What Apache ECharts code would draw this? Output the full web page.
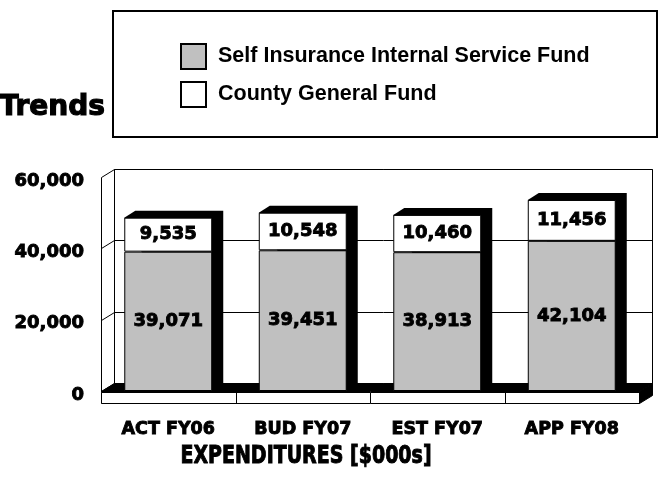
<!DOCTYPE html>
<html><head><meta charset="utf-8">
<script src="https://cdn.jsdelivr.net/npm/echarts@6/dist/echarts.min.js"></script>
<style>html,body{margin:0;padding:0;background:#fff}#c{width:660px;height:483px}</style>
</head><body><div id="c"></div>
<script>
const categories = ['ACT FY06', 'BUD FY07', 'EST FY07', 'APP FY08'];
const selfInsurance = [39071, 39451, 38913, 42104];
const countyGeneral = [9535, 10548, 10460, 11456];
const yTickValues = [0, 20000, 40000, 60000];
const seriesNames = ['Self Insurance Internal Service Fund', 'County General Fund'];

const DEPTH_X = 13, DEPTH_Y = 8, BAR_DX = 11, BAR_DY = 7, SLAB = 12;
const BAR_RATIO = 0.654;
const NUM_FONT = 'DejaVu Sans';
const GRAY = '#c0c0c0';
const fmt = v => Number(v).toLocaleString('en-US');
const totals = categories.map((c, i) => selfInsurance[i] + countyGeneral[i]);

const chart = echarts.init(document.getElementById('c'), null, {renderer: 'canvas'});

function ln(a, b, c, d) {
  return {type: 'line', shape: {x1: a, y1: b, x2: c, y2: d}, style: {stroke: '#000', lineWidth: 1}};
}

function renderFrame(params, api) {
  const cs = params.coordSys;
  const x0 = Math.round(cs.x) + 0.5, x1 = Math.round(cs.x + cs.width) + 0.5;
  const y0 = Math.round(api.coord([0, 0])[1]) + 0.5;
  const yTop = Math.round(api.coord([0, yTickValues[yTickValues.length - 1]])[1]) + 0.5;
  const ch = [];
  ch.push({type: 'rect', shape: {x: x0 + DEPTH_X, y: yTop - DEPTH_Y, width: x1 - x0, height: y0 - yTop},
    style: {fill: '#fff', stroke: '#000', lineWidth: 1}});
  yTickValues.forEach(t => {
    const y = Math.round(api.coord([0, t])[1]) + 0.5;
    if (t > 0) ch.push(ln(x0 + DEPTH_X, y - DEPTH_Y, x1 + DEPTH_X, y - DEPTH_Y));
    ch.push(ln(x0, y, x0 + DEPTH_X, y - DEPTH_Y));
  });
  ch.push(ln(x0, yTop, x0, y0 + SLAB));
  ch.push({type: 'polygon', shape: {points: [[x0, y0], [x0 + DEPTH_X, y0 - DEPTH_Y], [x1 + DEPTH_X, y0 - DEPTH_Y], [x1, y0]]},
    style: {fill: '#000', stroke: '#000', lineWidth: 1}});
  ch.push({type: 'rect', shape: {x: x0, y: y0 + 1, width: x1 - x0, height: SLAB - 1},
    style: {fill: '#fff', stroke: '#000', lineWidth: 1}});
  const band = api.size([1, 0])[0];
  for (let i = 1; i < categories.length; i++) {
    const xs = Math.round(api.coord([i, 0])[0] - band / 2) + 0.5;
    ch.push(ln(xs, y0 + 1, xs, y0 + SLAB));
  }
  ch.push({type: 'polygon', shape: {points: [[x1, y0], [x1 + DEPTH_X, y0 - DEPTH_Y], [x1 + DEPTH_X, y0 + SLAB - DEPTH_Y], [x1, y0 + SLAB]]},
    style: {fill: '#000', stroke: '#000', lineWidth: 1}});
  return {type: 'group', children: ch};
}

function renderShadow(params, api) {
  const i = api.value(0);
  const top = api.coord([i, api.value(1)]);
  const bot = api.coord([i, 0]);
  const bw = api.size([1, 0])[0] * BAR_RATIO;
  const l = top[0] - bw / 2, r = top[0] + bw / 2;
  return {type: 'polygon', shape: {points: [[l, top[1]], [l + BAR_DX, top[1] - BAR_DY], [r + BAR_DX, top[1] - BAR_DY],
    [r + BAR_DX, bot[1] - BAR_DY], [r, bot[1]]]}, style: {fill: '#000'}};
}

const heavy = {fontFamily: NUM_FONT, fontWeight: 'bold', color: '#000', textBorderColor: '#000', textBorderWidth: 0.9};
const barLabel = Object.assign({show: true, position: 'inside', formatter: p => fmt(p.value), fontSize: 18}, heavy);

chart.setOption({
  animation: false,
  backgroundColor: '#fff',
  grid: {left: 101, right: 21, top: 177, bottom: 92, containLabel: false},
  legend: {
    data: seriesNames, orient: 'vertical', left: 180, top: 43, padding: 0,
    itemWidth: 25, itemHeight: 25, itemGap: 11, icon: 'rect', selectedMode: false,
    textStyle: {fontFamily: 'Liberation Sans', fontWeight: 'bold', fontSize: 21.5, color: '#000', padding: [0, 0, 0, 7]}
  },
  xAxis: {
    type: 'category', data: categories,
    axisLine: {show: false}, axisTick: {show: false},
    axisLabel: Object.assign({margin: 29, fontSize: 17.5}, heavy)
  },
  yAxis: {
    type: 'value', min: 0, max: 60000, interval: 20000,
    axisLine: {show: false}, axisTick: {show: false}, splitLine: {show: false},
    axisLabel: Object.assign({margin: 17, formatter: v => fmt(v), fontSize: 18, verticalAlign: 'top', lineHeight: 8}, heavy)
  },
  graphic: [
    {type: 'rect', shape: {x: 113, y: 11, width: 544, height: 126}, style: {fill: 'none', stroke: '#000', lineWidth: 2}, z: 0},
    {type: 'text', x: 105, y: 108, style: {text: 'Trends', x: 0, y: 0, align: 'right', verticalAlign: 'middle',
      textAlign: 'right', textVerticalAlign: 'middle', font: 'bold 28px "DejaVu Sans"', fill: '#000', stroke: '#000', lineWidth: 1.2}},
    {type: 'text', x: 306, y: 456, scaleX: 0.76, style: {text: 'EXPENDITURES [$000s]', x: 0, y: 0, align: 'center', verticalAlign: 'middle',
      textAlign: 'center', textVerticalAlign: 'middle', font: 'bold 25px "DejaVu Sans"', fill: '#000', stroke: '#000', lineWidth: 1}}
  ],
  series: [
    {type: 'custom', name: 'frame', data: [[0, 0]], renderItem: renderFrame, silent: true, z: 1, clip: false},
    {type: 'custom', name: 'shadow', data: categories.map((c, i) => [i, totals[i]]), renderItem: renderShadow, silent: true, z: 2, clip: false},
    {type: 'bar', name: seriesNames[0], stack: 'total', data: selfInsurance, barWidth: (BAR_RATIO * 100) + '%', z: 3,
      itemStyle: {color: GRAY, borderColor: '#000', borderWidth: 1}, label: barLabel},
    {type: 'bar', name: seriesNames[1], stack: 'total', data: countyGeneral, barWidth: (BAR_RATIO * 100) + '%', z: 3,
      itemStyle: {color: '#fff', borderColor: '#000', borderWidth: 1}, label: barLabel}
  ]
});
</script></body></html>
